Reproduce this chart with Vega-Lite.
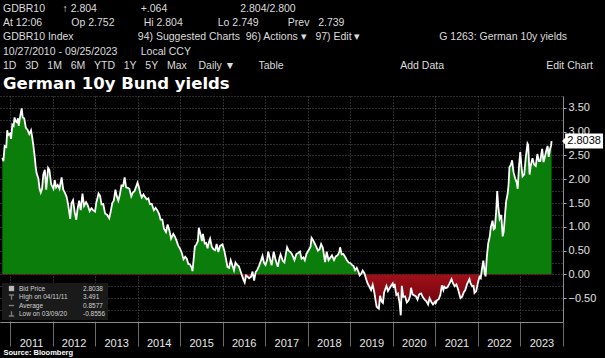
{
  "$schema": "https://vega.github.io/schema/vega-lite/v6.json",
  "width": 563,
  "height": 226,
  "autosize": "none",
  "padding": {"left": 0, "top": 96, "right": 42, "bottom": 36},
  "background": "#000000",
  "config": {
    "view": {"stroke": null},
    "axis": {"labelFont": "Liberation Sans", "titleFont": "Liberation Sans"},
    "legend": {"labelFont": "Liberation Sans"}
  },
  "title": {
    "text": [
      "GDBR10\u00a0\u00a0\u00a0\u00a0\u00a0\u00a0↑ 2.804\u00a0\u00a0\u00a0\u00a0\u00a0\u00a0\u00a0\u00a0\u00a0\u00a0\u00a0\u00a0\u00a0\u00a0\u00a0+.064\u00a0\u00a0\u00a0\u00a0\u00a0\u00a0\u00a0\u00a0\u00a0\u00a0\u00a0\u00a0\u00a0\u00a0\u00a0\u00a0\u00a0\u00a0\u00a0\u00a0\u00a0\u00a0\u00a0\u00a0\u00a02.804/2.800",
      "\u00a0At 12:06\u00a0\u00a0\u00a0\u00a0\u00a0\u00a0\u00a0\u00a0\u00a0\u00a0Op 2.752\u00a0\u00a0\u00a0\u00a0\u00a0\u00a0\u00a0\u00a0\u00a0\u00a0Hi 2.804\u00a0\u00a0\u00a0\u00a0\u00a0\u00a0\u00a0\u00a0\u00a0\u00a0\u00a0\u00a0Lo 2.749\u00a0\u00a0\u00a0\u00a0\u00a0\u00a0\u00a0\u00a0\u00a0\u00a0Prev\u00a0\u00a0\u00a02.739",
      "\u00a0GDBR10 Index\u00a0\u00a0\u00a0\u00a0\u00a0\u00a0\u00a0\u00a0\u00a0\u00a0\u00a0\u00a0\u00a0\u00a0\u00a0\u00a0\u00a0\u00a0\u00a0\u00a0\u00a0\u00a094) Suggested Charts\u00a0\u00a096) Actions ▾\u00a0\u00a0\u00a097) Edit ▾\u00a0\u00a0\u00a0\u00a0\u00a0\u00a0\u00a0\u00a0\u00a0\u00a0\u00a0\u00a0\u00a0\u00a0\u00a0\u00a0\u00a0\u00a0\u00a0\u00a0\u00a0\u00a0\u00a0\u00a0\u00a0\u00a0\u00a0G 1263: German 10y yields",
      "10/27/2010 - 09/25/2023\u00a0\u00a0\u00a0\u00a0\u00a0\u00a0\u00a0\u00a0Local CCY",
      "\u00a01D\u00a0\u00a0\u00a03D\u00a0\u00a0\u00a01M\u00a0\u00a0\u00a06M\u00a0\u00a0\u00a0YTD\u00a0\u00a0\u00a01Y\u00a0\u00a0\u00a05Y\u00a0\u00a0\u00a0Max\u00a0\u00a0\u00a0\u00a0Daily ▼\u00a0\u00a0\u00a0\u00a0\u00a0\u00a0\u00a0\u00a0Table\u00a0\u00a0\u00a0\u00a0\u00a0\u00a0\u00a0\u00a0\u00a0\u00a0\u00a0\u00a0\u00a0\u00a0\u00a0\u00a0\u00a0\u00a0\u00a0\u00a0\u00a0\u00a0\u00a0\u00a0\u00a0\u00a0\u00a0\u00a0\u00a0\u00a0\u00a0\u00a0\u00a0\u00a0\u00a0\u00a0\u00a0\u00a0\u00a0\u00a0Add Data\u00a0\u00a0\u00a0\u00a0\u00a0\u00a0\u00a0\u00a0\u00a0\u00a0\u00a0\u00a0\u00a0\u00a0\u00a0\u00a0\u00a0\u00a0\u00a0\u00a0\u00a0\u00a0\u00a0\u00a0\u00a0\u00a0\u00a0\u00a0\u00a0\u00a0\u00a0\u00a0\u00a0\u00a0\u00a0Edit Chart"
    ],
    "subtitle": "German 10y Bund yields",
    "anchor": "start",
    "frame": "group",
    "dx": 3,
    "offset": 4,
    "font": "Liberation Sans",
    "fontSize": 10.5,
    "fontWeight": "normal",
    "color": "#dcdcdc",
    "lineHeight": 14.3,
    "subtitleFont": "DejaVu Sans",
    "subtitleFontSize": 16.5,
    "subtitleFontWeight": "bold",
    "subtitleColor": "#ffffff",
    "subtitlePadding": 4
  },
  "datasets": {
    "yields": [
      {"d":"2010-10-27","v":2.45},{"d":"2010-11-05","v":2.38},{"d":"2010-11-16","v":2.70},{"d":"2010-11-30","v":2.68},{"d":"2010-12-08","v":3.03},{"d":"2010-12-16","v":2.93},{"d":"2010-12-31","v":2.96},
      {"d":"2011-01-10","v":2.85},{"d":"2011-01-21","v":3.15},{"d":"2011-02-01","v":3.12},{"d":"2011-02-09","v":3.30},{"d":"2011-02-18","v":3.22},{"d":"2011-03-01","v":3.20},{"d":"2011-03-10","v":3.28},{"d":"2011-03-17","v":3.12},{"d":"2011-03-31","v":3.35},{"d":"2011-04-11","v":3.49},{"d":"2011-04-20","v":3.30},{"d":"2011-05-03","v":3.28},{"d":"2011-05-17","v":3.08},{"d":"2011-05-31","v":3.04},{"d":"2011-06-15","v":2.95},{"d":"2011-06-30","v":3.03},{"d":"2011-07-08","v":2.92},{"d":"2011-07-20","v":2.72},{"d":"2011-08-02","v":2.45},{"d":"2011-08-10","v":2.25},{"d":"2011-08-18","v":2.12},{"d":"2011-09-01","v":2.02},{"d":"2011-09-12","v":1.80},{"d":"2011-09-22","v":1.72},{"d":"2011-10-03","v":1.80},{"d":"2011-10-14","v":2.10},{"d":"2011-10-27","v":2.20},{"d":"2011-11-08","v":1.78},{"d":"2011-11-24","v":2.24},{"d":"2011-12-05","v":2.20},{"d":"2011-12-20","v":1.90},
      {"d":"2012-01-09","v":1.80},{"d":"2012-01-20","v":1.98},{"d":"2012-02-01","v":1.83},{"d":"2012-02-15","v":1.88},{"d":"2012-03-01","v":1.80},{"d":"2012-03-19","v":2.04},{"d":"2012-04-02","v":1.78},{"d":"2012-04-16","v":1.72},{"d":"2012-05-02","v":1.62},{"d":"2012-05-15","v":1.45},{"d":"2012-06-01","v":1.17},{"d":"2012-06-12","v":1.50},{"d":"2012-06-25","v":1.56},{"d":"2012-07-10","v":1.30},{"d":"2012-07-23","v":1.15},{"d":"2012-08-03","v":1.38},{"d":"2012-08-16","v":1.55},{"d":"2012-08-30","v":1.35},{"d":"2012-09-14","v":1.70},{"d":"2012-09-28","v":1.44},{"d":"2012-10-15","v":1.52},{"d":"2012-10-30","v":1.45},{"d":"2012-11-15","v":1.33},{"d":"2012-11-30","v":1.39},{"d":"2012-12-14","v":1.35},{"d":"2012-12-31","v":1.32},
      {"d":"2013-01-10","v":1.50},{"d":"2013-01-30","v":1.70},{"d":"2013-02-12","v":1.65},{"d":"2013-02-25","v":1.47},{"d":"2013-03-12","v":1.48},{"d":"2013-03-27","v":1.28},{"d":"2013-04-15","v":1.25},{"d":"2013-05-02","v":1.18},{"d":"2013-05-15","v":1.33},{"d":"2013-05-28","v":1.50},{"d":"2013-06-10","v":1.55},{"d":"2013-06-24","v":1.78},{"d":"2013-07-05","v":1.65},{"d":"2013-07-19","v":1.55},{"d":"2013-08-01","v":1.68},{"d":"2013-08-15","v":1.87},{"d":"2013-08-30","v":1.86},{"d":"2013-09-11","v":2.04},{"d":"2013-09-24","v":1.83},{"d":"2013-10-08","v":1.82},{"d":"2013-10-22","v":1.80},{"d":"2013-11-07","v":1.64},{"d":"2013-11-20","v":1.72},{"d":"2013-12-05","v":1.75},{"d":"2013-12-18","v":1.84},{"d":"2013-12-31","v":1.93},
      {"d":"2014-01-10","v":1.85},{"d":"2014-01-24","v":1.70},{"d":"2014-02-05","v":1.62},{"d":"2014-02-20","v":1.68},{"d":"2014-03-05","v":1.63},{"d":"2014-03-20","v":1.58},{"d":"2014-04-03","v":1.60},{"d":"2014-04-16","v":1.48},{"d":"2014-05-02","v":1.48},{"d":"2014-05-20","v":1.35},{"d":"2014-06-04","v":1.40},{"d":"2014-06-18","v":1.35},{"d":"2014-07-03","v":1.28},{"d":"2014-07-17","v":1.15},{"d":"2014-08-01","v":1.15},{"d":"2014-08-15","v":0.96},{"d":"2014-09-01","v":0.89},{"d":"2014-09-15","v":1.05},{"d":"2014-10-01","v":0.92},{"d":"2014-10-15","v":0.75},{"d":"2014-11-03","v":0.85},{"d":"2014-11-18","v":0.79},{"d":"2014-12-02","v":0.70},{"d":"2014-12-16","v":0.60},{"d":"2014-12-31","v":0.54},
      {"d":"2015-01-15","v":0.45},{"d":"2015-01-30","v":0.32},{"d":"2015-02-13","v":0.37},{"d":"2015-02-27","v":0.33},{"d":"2015-03-12","v":0.22},{"d":"2015-03-26","v":0.21},{"d":"2015-04-09","v":0.15},{"d":"2015-04-17","v":0.07},{"d":"2015-05-07","v":0.59},{"d":"2015-05-20","v":0.63},{"d":"2015-06-02","v":0.70},{"d":"2015-06-10","v":0.98},{"d":"2015-06-24","v":0.85},{"d":"2015-07-07","v":0.70},{"d":"2015-07-15","v":0.85},{"d":"2015-07-31","v":0.65},{"d":"2015-08-12","v":0.66},{"d":"2015-08-24","v":0.55},{"d":"2015-09-04","v":0.67},{"d":"2015-09-15","v":0.75},{"d":"2015-09-30","v":0.58},{"d":"2015-10-14","v":0.53},{"d":"2015-10-29","v":0.51},{"d":"2015-11-10","v":0.64},{"d":"2015-11-25","v":0.47},{"d":"2015-12-09","v":0.60},{"d":"2015-12-30","v":0.63},
      {"d":"2016-01-15","v":0.50},{"d":"2016-01-29","v":0.33},{"d":"2016-02-11","v":0.16},{"d":"2016-02-25","v":0.14},{"d":"2016-03-10","v":0.30},{"d":"2016-03-23","v":0.20},{"d":"2016-04-07","v":0.09},{"d":"2016-04-20","v":0.25},{"d":"2016-05-04","v":0.20},{"d":"2016-05-19","v":0.17},{"d":"2016-06-03","v":0.06},{"d":"2016-06-16","v":-0.03},{"d":"2016-06-27","v":-0.11},{"d":"2016-07-08","v":-0.17},{"d":"2016-07-20","v":-0.02},{"d":"2016-08-03","v":-0.05},{"d":"2016-08-15","v":-0.08},{"d":"2016-09-01","v":-0.05},{"d":"2016-09-13","v":0.06},{"d":"2016-09-27","v":-0.13},{"d":"2016-10-10","v":0.05},{"d":"2016-10-25","v":0.10},{"d":"2016-11-08","v":0.18},{"d":"2016-11-23","v":0.28},{"d":"2016-12-08","v":0.39},{"d":"2016-12-20","v":0.25},
      {"d":"2017-01-03","v":0.20},{"d":"2017-01-16","v":0.30},{"d":"2017-01-26","v":0.48},{"d":"2017-02-10","v":0.33},{"d":"2017-02-24","v":0.19},{"d":"2017-03-14","v":0.48},{"d":"2017-03-28","v":0.33},{"d":"2017-04-18","v":0.16},{"d":"2017-05-03","v":0.35},{"d":"2017-05-12","v":0.42},{"d":"2017-06-01","v":0.28},{"d":"2017-06-14","v":0.25},{"d":"2017-06-29","v":0.47},{"d":"2017-07-07","v":0.57},{"d":"2017-07-20","v":0.50},{"d":"2017-08-04","v":0.47},{"d":"2017-08-17","v":0.43},{"d":"2017-08-31","v":0.35},{"d":"2017-09-08","v":0.30},{"d":"2017-09-25","v":0.43},{"d":"2017-10-10","v":0.45},{"d":"2017-10-26","v":0.48},{"d":"2017-11-08","v":0.33},{"d":"2017-11-24","v":0.36},{"d":"2017-12-06","v":0.30},{"d":"2017-12-20","v":0.43},
      {"d":"2018-01-10","v":0.52},{"d":"2018-01-24","v":0.58},{"d":"2018-02-02","v":0.77},{"d":"2018-02-15","v":0.72},{"d":"2018-03-01","v":0.65},{"d":"2018-03-15","v":0.58},{"d":"2018-03-29","v":0.50},{"d":"2018-04-12","v":0.53},{"d":"2018-04-25","v":0.64},{"d":"2018-05-10","v":0.56},{"d":"2018-05-29","v":0.26},{"d":"2018-06-12","v":0.48},{"d":"2018-06-28","v":0.30},{"d":"2018-07-12","v":0.35},{"d":"2018-07-27","v":0.40},{"d":"2018-08-14","v":0.30},{"d":"2018-08-29","v":0.38},{"d":"2018-09-13","v":0.40},{"d":"2018-09-28","v":0.47},{"d":"2018-10-05","v":0.57},{"d":"2018-10-19","v":0.42},{"d":"2018-11-02","v":0.43},{"d":"2018-11-19","v":0.36},{"d":"2018-12-03","v":0.30},{"d":"2018-12-17","v":0.25},{"d":"2018-12-31","v":0.24},
      {"d":"2019-01-14","v":0.20},{"d":"2019-01-28","v":0.18},{"d":"2019-02-11","v":0.09},{"d":"2019-02-25","v":0.14},{"d":"2019-03-11","v":0.06},{"d":"2019-03-22","v":-0.02},{"d":"2019-04-05","v":0.02},{"d":"2019-04-17","v":0.08},{"d":"2019-05-03","v":0.02},{"d":"2019-05-17","v":-0.10},{"d":"2019-05-31","v":-0.20},{"d":"2019-06-14","v":-0.26},{"d":"2019-06-28","v":-0.33},{"d":"2019-07-12","v":-0.22},{"d":"2019-07-26","v":-0.38},{"d":"2019-08-08","v":-0.58},{"d":"2019-08-15","v":-0.68},{"d":"2019-08-28","v":-0.71},{"d":"2019-09-03","v":-0.72},{"d":"2019-09-13","v":-0.45},{"d":"2019-09-27","v":-0.57},{"d":"2019-10-08","v":-0.60},{"d":"2019-10-18","v":-0.38},{"d":"2019-11-07","v":-0.24},{"d":"2019-11-20","v":-0.35},{"d":"2019-12-04","v":-0.29},{"d":"2019-12-17","v":-0.24},{"d":"2019-12-31","v":-0.19},
      {"d":"2020-01-08","v":-0.28},{"d":"2020-01-16","v":-0.20},{"d":"2020-01-31","v":-0.43},{"d":"2020-02-14","v":-0.40},{"d":"2020-02-28","v":-0.61},{"d":"2020-03-09","v":-0.86},{"d":"2020-03-18","v":-0.24},{"d":"2020-03-31","v":-0.47},{"d":"2020-04-15","v":-0.46},{"d":"2020-04-30","v":-0.59},{"d":"2020-05-14","v":-0.55},{"d":"2020-05-29","v":-0.45},{"d":"2020-06-05","v":-0.28},{"d":"2020-06-19","v":-0.42},{"d":"2020-07-03","v":-0.44},{"d":"2020-07-17","v":-0.46},{"d":"2020-07-31","v":-0.53},{"d":"2020-08-14","v":-0.42},{"d":"2020-08-31","v":-0.40},{"d":"2020-09-15","v":-0.48},{"d":"2020-09-30","v":-0.53},{"d":"2020-10-14","v":-0.56},{"d":"2020-10-30","v":-0.63},{"d":"2020-11-11","v":-0.50},{"d":"2020-11-27","v":-0.58},{"d":"2020-12-11","v":-0.63},{"d":"2020-12-30","v":-0.57},
      {"d":"2021-01-04","v":-0.60},{"d":"2021-01-15","v":-0.54},{"d":"2021-01-29","v":-0.52},{"d":"2021-02-12","v":-0.43},{"d":"2021-02-25","v":-0.23},{"d":"2021-03-10","v":-0.33},{"d":"2021-03-18","v":-0.26},{"d":"2021-03-31","v":-0.29},{"d":"2021-04-14","v":-0.27},{"d":"2021-04-30","v":-0.20},{"d":"2021-05-19","v":-0.10},{"d":"2021-06-01","v":-0.19},{"d":"2021-06-15","v":-0.25},{"d":"2021-06-30","v":-0.21},{"d":"2021-07-14","v":-0.31},{"d":"2021-07-30","v":-0.46},{"d":"2021-08-04","v":-0.50},{"d":"2021-08-18","v":-0.47},{"d":"2021-08-31","v":-0.38},{"d":"2021-09-14","v":-0.33},{"d":"2021-09-30","v":-0.20},{"d":"2021-10-20","v":-0.10},{"d":"2021-10-28","v":-0.18},{"d":"2021-11-12","v":-0.25},{"d":"2021-11-24","v":-0.24},{"d":"2021-12-02","v":-0.39},{"d":"2021-12-17","v":-0.35},{"d":"2021-12-31","v":-0.18},
      {"d":"2022-01-14","v":-0.05},{"d":"2022-01-25","v":-0.08},{"d":"2022-02-03","v":0.10},{"d":"2022-02-16","v":0.29},{"d":"2022-03-01","v":0.01},{"d":"2022-03-07","v":-0.04},{"d":"2022-03-18","v":0.37},{"d":"2022-03-30","v":0.65},{"d":"2022-04-12","v":0.80},{"d":"2022-04-22","v":1.00},{"d":"2022-05-06","v":1.13},{"d":"2022-05-16","v":0.95},{"d":"2022-05-26","v":0.97},{"d":"2022-06-07","v":1.35},{"d":"2022-06-15","v":1.75},{"d":"2022-06-24","v":1.43},{"d":"2022-07-06","v":1.17},{"d":"2022-07-20","v":1.25},{"d":"2022-08-01","v":0.80},{"d":"2022-08-10","v":0.90},{"d":"2022-08-22","v":1.28},{"d":"2022-08-31","v":1.54},{"d":"2022-09-13","v":1.70},{"d":"2022-09-21","v":1.90},{"d":"2022-09-28","v":2.25},{"d":"2022-10-10","v":2.30},{"d":"2022-10-21","v":2.40},{"d":"2022-11-02","v":2.15},{"d":"2022-11-16","v":2.02},{"d":"2022-11-30","v":1.93},{"d":"2022-12-08","v":1.80},{"d":"2022-12-20","v":2.30},{"d":"2022-12-30","v":2.57},
      {"d":"2023-01-10","v":2.25},{"d":"2023-01-19","v":2.06},{"d":"2023-02-02","v":2.10},{"d":"2023-02-15","v":2.45},{"d":"2023-03-02","v":2.75},{"d":"2023-03-08","v":2.72},{"d":"2023-03-20","v":2.10},{"d":"2023-03-31","v":2.30},{"d":"2023-04-14","v":2.44},{"d":"2023-04-28","v":2.31},{"d":"2023-05-12","v":2.28},{"d":"2023-05-26","v":2.53},{"d":"2023-06-08","v":2.38},{"d":"2023-06-20","v":2.38},{"d":"2023-07-06","v":2.64},{"d":"2023-07-18","v":2.36},{"d":"2023-07-31","v":2.49},{"d":"2023-08-11","v":2.61},{"d":"2023-08-22","v":2.70},{"d":"2023-08-31","v":2.47},{"d":"2023-09-12","v":2.64},{"d":"2023-09-20","v":2.70},{"d":"2023-09-25","v":2.80}
    ],
    "stats": [
      {"item":"Bid Price"},{"item":"2.8038"},
      {"item":"High on 04/11/11"},{"item":"3.491"},
      {"item":"Average"},{"item":"0.8577"},
      {"item":"Low on 03/09/20"},{"item":"-0.8556"}
    ],
    "last": [{"d":"2023-09-25","v":2.8038}]
  },
  "layer": [
    {
      "data": {"name": "yields"},
      "mark": {
        "type": "area",
        "color": {
          "gradient": "linear", "x1": 0, "x2": 0, "y1": 0, "y2": 1,
          "stops": [
            {"offset": 0, "color": "#0b7d0b"},
            {"offset": 0.8023, "color": "#0b7d0b"},
            {"offset": 0.8023, "color": "#a0101a"},
            {"offset": 1, "color": "#5e0006"}
          ]
        }
      },
      "encoding": {
        "x": {
          "field": "d", "type": "temporal",
          "scale": {"type": "utc", "domain": [{"year": 2010, "month": 10, "date": 7, "utc": true}, {"year": 2024, "month": 1, "date": 1, "utc": true}]},
          "axis": {
            "title": "Source: Bloomberg",
            "titleAnchor": "start", "titleAlign": "left", "titleFontSize": 7.5, "titleFontWeight": "bold", "titleColor": "#ffffff", "titlePadding": 0, "titleX": 3,
            "tickCount": {"interval": "year", "step": 1},
            "labelExpr": "utcyear(datum.value) < 2024 ? utcFormat(datum.value, '%Y') : ''",
            "labelOffset": 21, "labelAlign": "center", "labelPadding": -9, "labelFontSize": 11, "labelColor": "#e8e8e8",
            "labelOverlap": false, "labelFlush": false, "labelBound": false,
            "tickSize": 24, "tickColor": "#6a6a6a", "tickWidth": 1,
            "domainColor": "#8a8a8a",
            "grid": true, "gridColor": "#5a5a5a", "gridDash": [1, 2], "gridWidth": 1
          }
        },
        "y": {
          "field": "v", "type": "quantitative",
          "scale": {"domain": [-1, 3.75], "nice": false, "zero": false},
          "axis": {
            "orient": "left", "title": null, "labels": false, "ticks": false, "domain": false,
            "values": [-1, -0.75, -0.5, -0.25, 0, 0.25, 0.5, 0.75, 1, 1.25, 1.5, 1.75, 2, 2.25, 2.5, 2.75, 3, 3.25, 3.5, 3.75],
            "grid": true, "gridColor": "#5a5a5a", "gridDash": [1, 2], "gridWidth": 1
          }
        },
        "y2": {"datum": 0}
      }
    },
    {
      "data": {"name": "yields"},
      "mark": {"type": "line", "color": "#ffffff", "strokeWidth": 1.8},
      "encoding": {
        "x": {"field": "d", "type": "temporal"},
        "y": {
          "field": "v", "type": "quantitative",
          "axis": {
            "orient": "right", "title": null, "grid": false, "zindex": 0,
            "values": [-0.5, 0, 0.5, 1, 1.5, 2, 2.5, 3, 3.5],
            "format": ".2f",
            "labelFontSize": 11, "labelColor": "#e0e0e0", "labelPadding": 2,
            "tickSize": 3, "tickColor": "#b0b0b0",
            "domainColor": "#8a8a8a"
          }
        }
      }
    },
    {
      "data": {"name": "stats"},
      "mark": {"type": "point", "filled": true, "size": 0},
      "encoding": {
        "color": {
          "field": "item", "type": "nominal",
          "scale": {
            "domain": ["Bid Price", "High on 04/11/11", "Average", "Low on 03/09/20", "2.8038", "3.491", "0.8577", "-0.8556"],
            "range": ["#ffffff", "#a8a8a8", "#a8a8a8", "#a8a8a8", "rgba(0,0,0,0)", "rgba(0,0,0,0)", "rgba(0,0,0,0)", "rgba(0,0,0,0)"]
          },
          "legend": {
            "orient": "bottom-left", "offset": 2, "title": null, "columns": 2, "columnPadding": -4, "rowPadding": 1.5,
            "labelFontSize": 6.5, "labelColor": "#d0d0d0", "symbolSize": 28, "symbolOffset": 4,
            "fillColor": "#1a1a1a", "padding": 2, "gridAlign": "each"
          }
        },
        "shape": {
          "field": "item", "type": "nominal",
          "scale": {
            "domain": ["Bid Price", "High on 04/11/11", "Average", "Low on 03/09/20", "2.8038", "3.491", "0.8577", "-0.8556"],
            "range": ["square", "M-1,-1H1V-0.5H0.25V1H-0.25V-0.5H-1Z", "M-1,-0.25H1V0.25H-1Z", "M-0.25,-1H0.25V0.5H1V1H-1V0.5H-0.25Z", "circle", "circle", "circle", "circle"]
          },
          "legend": {
            "orient": "bottom-left", "offset": 2, "title": null, "columns": 2, "columnPadding": -4, "rowPadding": 1.5,
            "labelFontSize": 6.5, "labelColor": "#d0d0d0", "symbolSize": 28, "symbolOffset": 4,
            "fillColor": "#1a1a1a", "padding": 2, "gridAlign": "each"
          }
        }
      }
    },
    {
      "data": {"name": "last"},
      "mark": {"type": "point", "filled": true, "color": "#ffffff", "size": 225, "opacity": 1, "xOffset": 32.5,
        "shape": "M-2.93,0L-2.53,-0.45V-1H2.53V1H-2.53V0.45Z"},
      "encoding": {
        "x": {"field": "d", "type": "temporal"},
        "y": {"field": "v", "type": "quantitative", "axis": null}
      }
    },
    {
      "data": {"name": "last"},
      "mark": {"type": "text", "color": "#000000", "font": "Liberation Sans", "fontSize": 11, "dx": 32.5, "align": "center", "baseline": "middle"},
      "encoding": {
        "x": {"field": "d", "type": "temporal"},
        "y": {"field": "v", "type": "quantitative", "axis": null},
        "text": {"field": "v", "type": "quantitative", "format": ".4f"}
      }
    }
  ],
  "resolve": {"axis": {"y": "independent"}}
}
